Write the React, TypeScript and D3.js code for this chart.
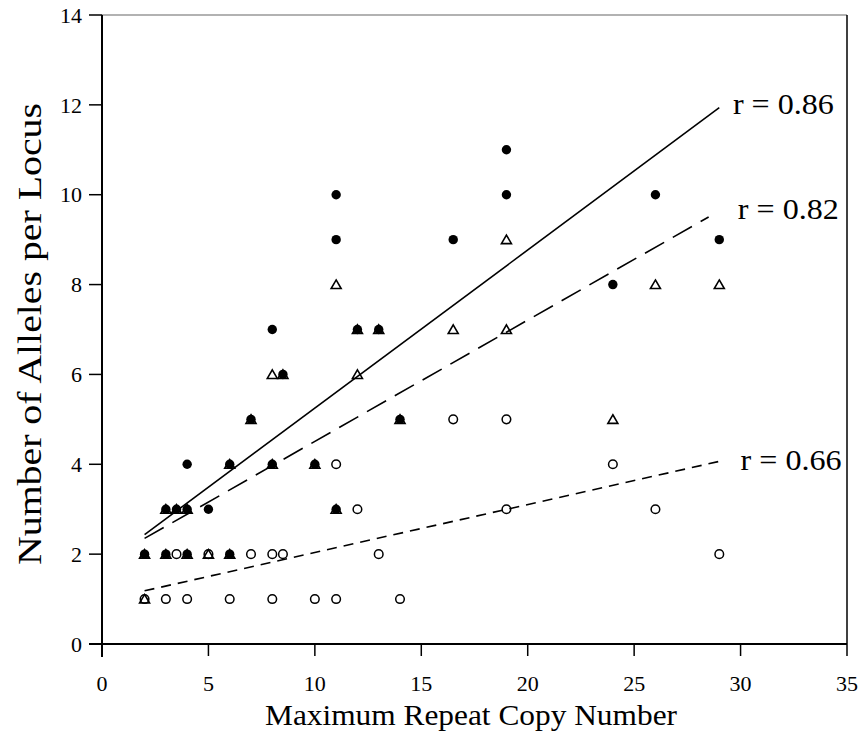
import React from "react";
import * as d3 from "d3";

// Filled circles
const filledX = [2, 3, 3, 3.5, 4, 4, 4, 5, 6, 6, 7, 8, 8, 8.5, 10, 11, 11, 11, 12, 13, 14, 16.5, 19, 19, 24, 26, 29];
const filledY = [2, 3, 2, 3, 4, 3, 2, 3, 4, 2, 5, 7, 4, 6, 4, 10, 9, 3, 7, 7, 5, 9, 11, 10, 8, 10, 9];

// Open triangles
const triX = [2, 2, 3, 3, 3.5, 4, 4, 5, 6, 6, 7, 8, 8, 8.5, 10, 11, 11, 12, 12, 13, 14, 16.5, 19, 19, 24, 26, 29];
const triY = [2, 1, 3, 2, 3, 3, 2, 2, 4, 2, 5, 6, 4, 6, 4, 8, 3, 7, 6, 7, 5, 7, 9, 7, 5, 8, 8];

// Open circles
const openX = [2, 3, 4, 6, 8, 10, 11, 14, 3.5, 5, 7, 8, 8.5, 13, 29, 12, 19, 26, 11, 24, 16.5, 19];
const openY = [1, 1, 1, 1, 1, 1, 1, 1, 2, 2, 2, 2, 2, 2, 2, 3, 3, 3, 4, 4, 5, 5];

// Regression lines: [x start, x end], intercept, slope, label
const fitNames = ["r = 0.86", "r = 0.82", "r = 0.66"];
const fitX0 = [2, 2, 2];
const fitX1 = [29, 28.5, 29];
const fitIntercept = [1.73, 1.81, 0.97];
const fitSlope = [0.352, 0.27, 0.1067];
const fitDash = ["none", "22,10", "10,7"];
const labelX = [29.64, 29.87, 30.0];
const labelY = [12, 9.66, 4.07];

const xTicks = [0, 5, 10, 15, 20, 25, 30, 35];
const yTicks = [0, 2, 4, 6, 8, 10, 12, 14];

const FONT = "'Liberation Serif', 'Times New Roman', Times, serif";

export default function App() {
  const W = 863, H = 734;
  const x = d3.scaleLinear().domain([0, 35]).range([102, 847]);
  const y = d3.scaleLinear().domain([0, 14]).range([644, 15]);
  const line = d3.line<[number, number]>().x(d => x(d[0])).y(d => y(d[1]));

  const triPath = (cx: number, cy: number) => {
    return `M${cx},${cy - 4.6}L${cx + 5},${cy + 4}L${cx - 5},${cy + 4}Z`;
  };

  return (
    <svg width={W} height={H} style={{ position: "absolute", left: 0, top: 0, background: "#fff" }}>
      <rect x={0} y={0} width={W} height={H} fill="#fff" />
      {/* frame */}
      <line x1={x(0)} x2={x(35)} y1={y(14)} y2={y(14)} stroke="#666" strokeWidth={1.2} />
      <line x1={x(35)} x2={x(35)} y1={y(14)} y2={y(0)} stroke="#000" strokeWidth={1.5} />
      {/* axes */}
      <line x1={x(0)} x2={x(0)} y1={y(14)} y2={y(0) + 13} stroke="#000" strokeWidth={2} />
      <line x1={x(0) - 13} x2={x(35)} y1={y(0)} y2={y(0)} stroke="#000" strokeWidth={2} />
      {yTicks.map(t => (
        <g key={"y" + t}>
          <line x1={x(0) - 13} x2={x(0)} y1={y(t)} y2={y(t)} stroke="#000" strokeWidth={1.5} />
          <text x={82} y={y(t)} dy="0.35em" textAnchor="end" fontFamily={FONT} fontSize={22}>{t}</text>
        </g>
      ))}
      {xTicks.map(t => (
        <g key={"x" + t}>
          <line x1={x(t)} x2={x(t)} y1={y(0)} y2={y(0) + 12} stroke="#000" strokeWidth={1.5} />
          <text x={x(t)} y={691} textAnchor="middle" fontFamily={FONT} fontSize={22}>{t}</text>
        </g>
      ))}
      <text x={471} y={725} textAnchor="middle" fontFamily={FONT} fontSize={30}
        textLength={412} lengthAdjust="spacingAndGlyphs">Maximum Repeat Copy Number</text>
      <text transform={`translate(41,334) rotate(-90)`} textAnchor="middle" fontFamily={FONT} fontSize={33}
        textLength={462} lengthAdjust="spacingAndGlyphs">Number of Alleles per Locus</text>

      {/* regression lines */}
      {fitNames.map((n, i) => (
        <g key={n}>
          <path
            d={line([[fitX0[i], fitIntercept[i] + fitSlope[i] * fitX0[i]], [fitX1[i], fitIntercept[i] + fitSlope[i] * fitX1[i]]]) || ""}
            fill="none" stroke="#000" strokeWidth={1.6} strokeDasharray={fitDash[i]} />
          <text x={x(labelX[i])} y={y(labelY[i])} dy="0.32em" fontFamily={FONT} fontSize={29}
            textLength={101} lengthAdjust="spacingAndGlyphs">{n}</text>
        </g>
      ))}

      {/* open circles */}
      {openX.map((v, i) => (
        <circle key={"o" + i} cx={x(v)} cy={y(openY[i])} r={4.3} fill="none" stroke="#000" strokeWidth={1.5} />
      ))}
      {/* triangles */}
      {triX.map((v, i) => (
        <path key={"t" + i} d={triPath(x(v), y(triY[i]))} fill="none" stroke="#000" strokeWidth={1.6} strokeLinejoin="miter" />
      ))}
      {/* filled circles */}
      {filledX.map((v, i) => (
        <circle key={"f" + i} cx={x(v)} cy={y(filledY[i])} r={4.7} fill="#000" />
      ))}
    </svg>
  );
}
